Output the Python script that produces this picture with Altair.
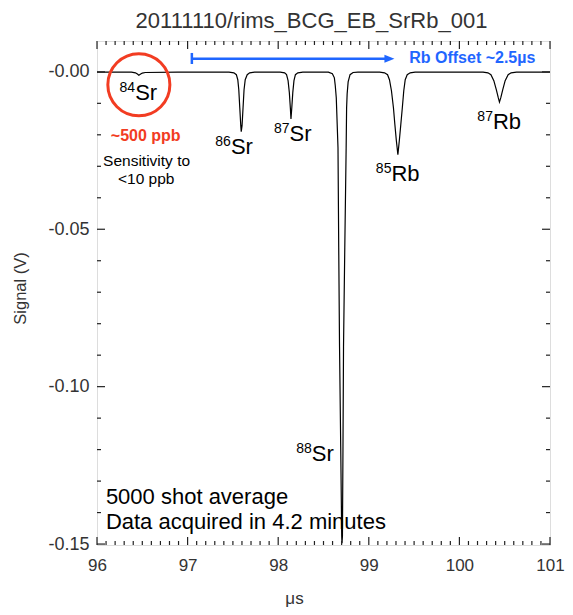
import altair as alt
import pandas as pd

TITLE = "20111110/rims_BCG_EB_SrRb_001"
FONT = "Liberation Sans"
RED = "#f23c22"
BLUE = "#1f66ff"

# trace (time in µs, signal in V)
time_us = [96.000, 96.380, 96.424, 96.446, 96.462, 96.478, 96.500, 96.533, 96.891, 97.457,
           97.511, 97.538, 97.554, 97.565, 97.576, 97.587, 97.592, 97.601, 97.612, 97.623,
           97.636, 97.658, 97.685, 97.739, 98.022, 98.071, 98.092, 98.109, 98.123, 98.134,
           98.141, 98.150, 98.161, 98.174, 98.190, 98.217, 98.272, 98.554, 98.598, 98.620,
           98.630, 98.641, 98.660, 98.668, 98.677, 98.690, 98.701, 98.704, 98.709, 98.715,
           98.721, 98.735, 98.750, 98.755, 98.761, 98.772, 98.793, 98.826, 98.880, 99.120,
           99.174, 99.207, 99.228, 99.250, 99.272, 99.288, 99.304, 99.321, 99.337, 99.353,
           99.370, 99.386, 99.402, 99.424, 99.457, 99.511, 100.261, 100.315, 100.348, 100.380,
           100.408, 100.429, 100.442, 100.457, 100.478, 100.505, 100.538, 100.571, 100.630, 101.000]
signal_v = [-0.0001, -0.0001, -0.0003, -0.0007, -0.0011, -0.0008, -0.0004, -0.0002, -0.0001, -0.0001,
            -0.0003, -0.0009, -0.0025, -0.0057, -0.0114, -0.0171, -0.0190, -0.0171, -0.0114, -0.0057,
            -0.0025, -0.0009, -0.0003, -0.0001, -0.0001, -0.0003, -0.0009, -0.0028, -0.0066, -0.0114,
            -0.0150, -0.0114, -0.0066, -0.0028, -0.0009, -0.0003, -0.0001, -0.0001, -0.0006, -0.0019,
            -0.0044, -0.0082, -0.0241, -0.0557, -0.0873, -0.1190, -0.1475, -0.1497, -0.1475, -0.1190,
            -0.0873, -0.0557, -0.0241, -0.0114, -0.0070, -0.0032, -0.0009, -0.0002, -0.0001, -0.0001,
            -0.0003, -0.0009, -0.0025, -0.0060, -0.0114, -0.0168, -0.0218, -0.0263, -0.0218, -0.0168,
            -0.0114, -0.0060, -0.0025, -0.0009, -0.0003, -0.0001, -0.0001, -0.0003, -0.0009, -0.0028,
            -0.0057, -0.0082, -0.0096, -0.0082, -0.0057, -0.0028, -0.0009, -0.0003, -0.0001, -0.0001]

# isotope labels
iso_mass = ["84", "86", "87", "85", "87", "88"]
iso_elem = ["Sr", "Sr", "Sr", "Rb", "Rb", "Sr"]
iso_x = [96.421, 97.478, 98.125, 99.250, 100.370, 98.370]
iso_y = [-0.0089, -0.0262, -0.0219, -0.0347, -0.0182, -0.1235]

# other annotations
note_red = "~500 ppb"
note_red_xy = (96.538, -0.0220)
sens_lines = ["Sensitivity to", "<10 ppb"]
sens_x = [96.547, 96.543]
sens_y = [-0.0298, -0.0356]
info_lines = ["5000 shot average", "Data acquired in 4.2 minutes"]
info_x = [96.098, 96.098]
info_y = [-0.1374, -0.1453]
offset_text = "Rb Offset ~2.5µs"
offset_xy = (99.446, 0.0028)
arrow_x = [97.047, 99.228]
arrow_y = 0.0042
arrow_bar_y = [0.0060, 0.0025]
circle_xy = (96.462, -0.0041)

# axes
x_major = [96, 97, 98, 99, 100, 101]
y_major = [0.0, -0.05, -0.10, -0.15]
x_minor = [round(96 + 0.1 * i, 1) for i in range(51) if i % 10]
y_minor = [round(-0.01 * i, 2) for i in range(16) if i % 5]

W, H = 453, 504
xs = alt.Scale(domain=[96, 101], nice=False, zero=False)
ys = alt.Scale(domain=[-0.1503, 0.0098], nice=False, zero=False)

XAX = alt.Axis(
    values=x_major, format="d", title="μs", labelFontSize=17, labelFont=FONT,
    labelColor="#333", labelPadding=12, labelFlush=False, ticks=False, tickSize=0,
    domain=False, grid=False,
    titleFont=FONT, titleFontSize=17, titleFontWeight="normal", titleColor="#333",
    titleX=197, titleY=58, titleBaseline="alphabetic", titleAlign="center")
YAX = alt.Axis(
    values=y_major, labelFontSize=18, labelFont=FONT, labelColor="#333", labelPadding=8,
    labelFlush=False,
    labelExpr="datum.value == 0 ? '-0.00' : (datum.value < 0 ? '-' + format(-datum.value, '.2f') : format(datum.value, '.2f'))",
    ticks=False, tickSize=0, domain=False, grid=False, title="Signal (V)",
    titleFont=FONT, titleFontSize=16.5, titleFontWeight="normal", titleColor="#333",
    titleX=-77, titleY=247, titleAngle=270, titleBaseline="middle", titleAlign="center")


def X(field):
    return alt.X(field, scale=xs, axis=XAX)


def Y(field):
    return alt.Y(field, scale=ys, axis=YAX)


trace = pd.DataFrame({"t": time_us, "s": signal_v})
line = alt.Chart(trace).mark_line(color="black", strokeWidth=1.2).encode(x=X("t:Q"), y=Y("s:Q"))


def ticks_x(vals, length, top):
    df = pd.DataFrame({"v": vals})
    return alt.Chart(df).mark_rule(color="#222", strokeWidth=1.2).encode(
        x=X("v:Q"), y=alt.value(0 if top else H), y2=alt.value(length if top else H - length))


def ticks_y(vals, length, right):
    df = pd.DataFrame({"v": vals})
    return alt.Chart(df).mark_rule(color="#222", strokeWidth=1.2).encode(
        y=Y("v:Q"), x=alt.value(W if right else 0), x2=alt.value(W - length if right else length))


tick_layers = [
    ticks_x(x_major, 8, False), ticks_x(x_major, 8, True),
    ticks_x(x_minor, 4, False), ticks_x(x_minor, 4, True),
    ticks_y(y_major, 8, False), ticks_y(y_major, 8, True),
    ticks_y(y_minor, 4, False), ticks_y(y_minor, 4, True),
]

iso = pd.DataFrame({"x": iso_x, "y": iso_y, "m": iso_mass, "e": iso_elem})
iso_mass_t = alt.Chart(iso).mark_text(font=FONT, fontSize=14, align="right", baseline="alphabetic",
                                      dy=-8, color="black").encode(x=X("x:Q"), y=Y("y:Q"), text="m:N")
iso_elem_t = alt.Chart(iso).mark_text(font=FONT, fontSize=22, align="left", baseline="alphabetic",
                                      color="black").encode(x=X("x:Q"), y=Y("y:Q"), text="e:N")

red_df = pd.DataFrame({"x": [note_red_xy[0]], "y": [note_red_xy[1]], "t": [note_red]})
red_t = alt.Chart(red_df).mark_text(font=FONT, fontSize=16, fontWeight="bold", align="center",
                                    baseline="alphabetic", color=RED).encode(
    x=X("x:Q"), y=Y("y:Q"), text="t:N")

sens_df = pd.DataFrame({"x": sens_x, "y": sens_y, "t": sens_lines})
sens_t = alt.Chart(sens_df).mark_text(font=FONT, fontSize=15.5, align="center",
                                      baseline="alphabetic", color="black").encode(
    x=X("x:Q"), y=Y("y:Q"), text="t:N")

info_df = pd.DataFrame({"x": info_x, "y": info_y, "t": info_lines})
info_t = alt.Chart(info_df).mark_text(font=FONT, fontSize=22, align="left",
                                      baseline="alphabetic", color="black").encode(
    x=X("x:Q"), y=Y("y:Q"), text="t:N")

off_df = pd.DataFrame({"x": [offset_xy[0]], "y": [offset_xy[1]], "t": [offset_text]})
off_t = alt.Chart(off_df).mark_text(font=FONT, fontSize=16, fontWeight="bold", align="left",
                                    baseline="alphabetic", color=BLUE).encode(
    x=X("x:Q"), y=Y("y:Q"), text="t:N")

arr_df = pd.DataFrame({"x": [arrow_x[0]], "x2": [arrow_x[1]], "y": [arrow_y]})
arr_line = alt.Chart(arr_df).mark_rule(color=BLUE, strokeWidth=2.5).encode(
    x=X("x:Q"), x2="x2:Q", y=Y("y:Q"))
bar_df = pd.DataFrame({"x": [arrow_x[0]], "y": [arrow_bar_y[0]], "y2": [arrow_bar_y[1]]})
arr_bar = alt.Chart(bar_df).mark_rule(color=BLUE, strokeWidth=2.5).encode(
    x=X("x:Q"), y=Y("y:Q"), y2="y2:Q")
head_df = pd.DataFrame({"x": [arrow_x[1]], "y": [arrow_y]})
arr_head = alt.Chart(head_df).mark_point(shape="M-1,-0.8L1,0L-1,0.8Z", filled=True, size=100,
                                         color=BLUE, opacity=1).encode(x=X("x:Q"), y=Y("y:Q"))

circ_df = pd.DataFrame({"x": [circle_xy[0]], "y": [circle_xy[1]]})
circ = alt.Chart(circ_df).mark_point(shape="circle", size=3850, filled=False, stroke=RED,
                                     strokeWidth=3, opacity=1).encode(x=X("x:Q"), y=Y("y:Q"))

chart = alt.layer(
    line, *tick_layers, circ, iso_mass_t, iso_elem_t, red_t, sens_t, info_t,
    arr_line, arr_bar, arr_head, off_t
).properties(
    width=W, height=H,
    title=alt.TitleParams(TITLE, font=FONT, fontSize=22, fontWeight="normal", color="#333",
                          anchor="middle", baseline="alphabetic", offset=0, dy=10, dx=-12,
                          frame="group"),
    padding={"left": 89, "top": 33, "right": 15, "bottom": 62},
    autosize=alt.AutoSizeParams(type="none"),
).configure_view(stroke="#222", strokeWidth=1.5).configure(background="white")

chart.save("out.html", embed_options={"renderer": "svg", "actions": False})
